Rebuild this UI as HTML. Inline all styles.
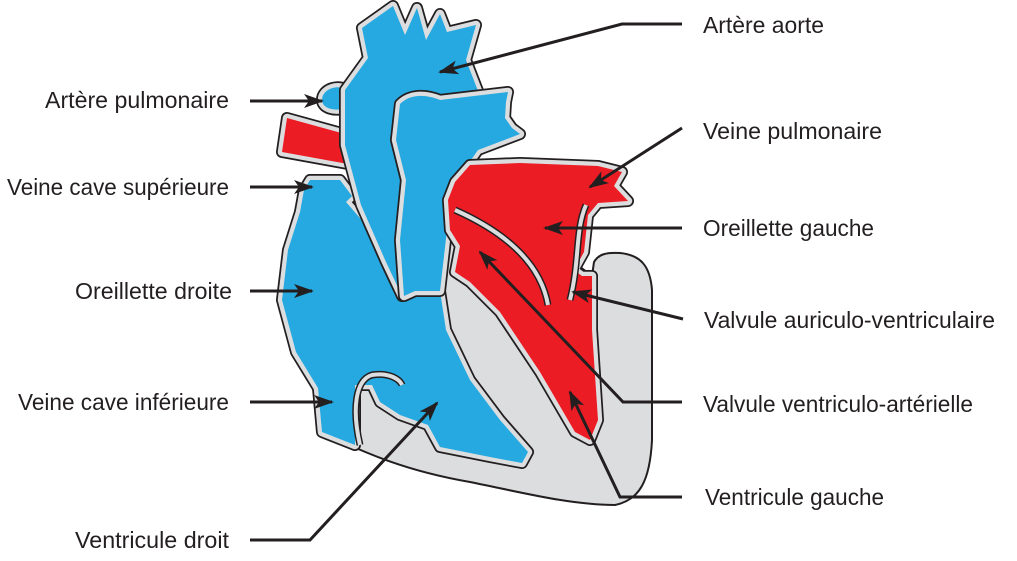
<!DOCTYPE html>
<html><head><meta charset="utf-8"><style>
html,body{margin:0;padding:0;background:#fff;}
svg{display:block;}
text{font-family:"Liberation Sans Narrow","Liberation Sans",sans-serif;font-size:23px;fill:#231f20;}
</style></head><body>
<svg width="1017" height="561" viewBox="0 0 1017 561" xmlns="http://www.w3.org/2000/svg">
<defs>
<marker id="ah" viewBox="0 0 20 14" refX="18" refY="7" markerWidth="20" markerHeight="14" orient="auto" markerUnits="userSpaceOnUse">
<path d="M0,0 L20,7 L0,14 L5,7 Z" fill="#231f20"/>
</marker>
<path id="ra" d="M310,180 L340,180 L352,196 L346,202 L372,232 L392,262 L405,300 L416,291 L440,291 L446,330 L470,380 L500,420 L528,452 L522,463 L490,457 L440,447 L428,425 L400,415 L380,402 L372,385 L355,385 L355,445 L322,432 L318,388 L296,352 L282,300 L288,250 L300,212 L304,190 Z"/>
<path id="ao" d="M362,28 L393,6 L405,35 L417,8 L426,40 L440,14 L447,32 L476,25 L466,60 L480,96 L440,100 L400,108 L394,140 L404,180 L398,230 L402,296 L386,262 L361,205 L345,145 L345,90 L368,58 Z"/>
<path id="pt" d="M400,104 C410,94 425,94 440,100 L508,92 L506,102 L505,118 L512,128 L520,134 L478,150 L457,180 L447,230 L440,291 L415,291 L404,296 L400,240 L406,180 L396,140 Z"/>
<path id="pa" d="M287,118 L345,134 L348,164 L282,152 Z"/>
<path id="ap" d="M322,100 C322,88 340,84 346,90 L346,108 C334,112 322,108 322,100 Z"/>
<path id="la" d="M455,182 L470,165 L520,163 L598,166 L622,172 L614,186 L628,201 L598,203 L588,215 L584,252 L574,270 L582,276 L592,276 L592,330 L598,420 L590,440 L575,432 L540,372 L500,312 L470,282 L455,272 L460,246 L450,230 L448,200 Z"/>
</defs>
<!-- outer gray body -->
<path d="M320,432 C360,450 400,470 470,482 C520,492 570,505 615,505 C640,500 650,480 652,440 L652,290 C650,265 640,255 620,253 C605,252 598,255 594,262 L592,276 L480,190 L445,240 L420,300 L360,380 Z" fill="#dcdddf" stroke="#231f20" stroke-width="2"/>
<g stroke-linejoin="round">
<use href="#ra" fill="none" stroke="#231f20" stroke-width="12"/>
<use href="#ra" fill="none" stroke="#dcdddf" stroke-width="8.5"/>
<use href="#ra" fill="#25a9e0"/>
<use href="#pa" fill="none" stroke="#231f20" stroke-width="12"/>
<use href="#pa" fill="none" stroke="#dcdddf" stroke-width="8.5"/>
<use href="#pa" fill="#ec1c24"/>
<use href="#ap" fill="none" stroke="#231f20" stroke-width="12"/>
<use href="#ap" fill="none" stroke="#dcdddf" stroke-width="8.5"/>
<use href="#ap" fill="#25a9e0"/>
<use href="#ao" fill="none" stroke="#231f20" stroke-width="12"/>
<use href="#ao" fill="none" stroke="#dcdddf" stroke-width="8.5"/>
<use href="#ao" fill="#25a9e0"/>
<use href="#pt" fill="none" stroke="#231f20" stroke-width="12"/>
<use href="#pt" fill="none" stroke="#dcdddf" stroke-width="8.5"/>
<use href="#pt" fill="#25a9e0"/>
<use href="#la" fill="none" stroke="#231f20" stroke-width="12"/>
<use href="#la" fill="none" stroke="#dcdddf" stroke-width="8.5"/>
<use href="#la" fill="#ec1c24"/>
</g>
<!-- valves -->
<path d="M455,210 C500,230 540,260 548,305" fill="none" stroke="#231f20" stroke-width="7"/>
<path d="M455,210 C500,230 540,260 548,305" fill="none" stroke="#dcdddf" stroke-width="4"/>
<path d="M586,205 C575,230 580,260 570,300" fill="none" stroke="#231f20" stroke-width="7"/>
<path d="M586,205 C575,230 580,260 570,300" fill="none" stroke="#dcdddf" stroke-width="4"/>
<path d="M360,445 C352,410 355,380 372,375 C390,372 400,380 402,385" fill="none" stroke="#231f20" stroke-width="7"/>
<path d="M360,445 C352,410 355,380 372,375 C390,372 400,380 402,385" fill="none" stroke="#dcdddf" stroke-width="4"/>
<!-- leader lines -->
<g fill="none" stroke="#231f20" stroke-width="3" marker-end="url(#ah)">
<path d="M682,24 L622,24 L440,72"/>
<path d="M250,101 L322,101"/>
<path d="M250,187 L312,187"/>
<path d="M250,291 L312,291"/>
<path d="M250,402 L332,402"/>
<path d="M250,540 L310,540 L437,403"/>
<path d="M682,128 L590,187"/>
<path d="M682,228 L545,228"/>
<path d="M683,319 L573,292"/>
<path d="M682,402 L623,402 L480,252"/>
<path d="M682,497 L620,497 L570,392"/>
</g>
<!-- labels -->
<text x="703" y="33" textLength="121" lengthAdjust="spacingAndGlyphs">Artère aorte</text>
<text x="45" y="108" textLength="184" lengthAdjust="spacingAndGlyphs">Artère pulmonaire</text>
<text x="7" y="195" textLength="222" lengthAdjust="spacingAndGlyphs">Veine cave supérieure</text>
<text x="75" y="299" textLength="157" lengthAdjust="spacingAndGlyphs">Oreillette droite</text>
<text x="18" y="410" textLength="211" lengthAdjust="spacingAndGlyphs">Veine cave inférieure</text>
<text x="75" y="548" textLength="154" lengthAdjust="spacingAndGlyphs">Ventricule droit</text>
<text x="703" y="139" textLength="179" lengthAdjust="spacingAndGlyphs">Veine pulmonaire</text>
<text x="703" y="236" textLength="171" lengthAdjust="spacingAndGlyphs">Oreillette gauche</text>
<text x="704" y="328" textLength="291" lengthAdjust="spacingAndGlyphs">Valvule auriculo-ventriculaire</text>
<text x="703" y="412" textLength="270" lengthAdjust="spacingAndGlyphs">Valvule ventriculo-artérielle</text>
<text x="705" y="505" textLength="179" lengthAdjust="spacingAndGlyphs">Ventricule gauche</text>
</svg>
</body></html>
